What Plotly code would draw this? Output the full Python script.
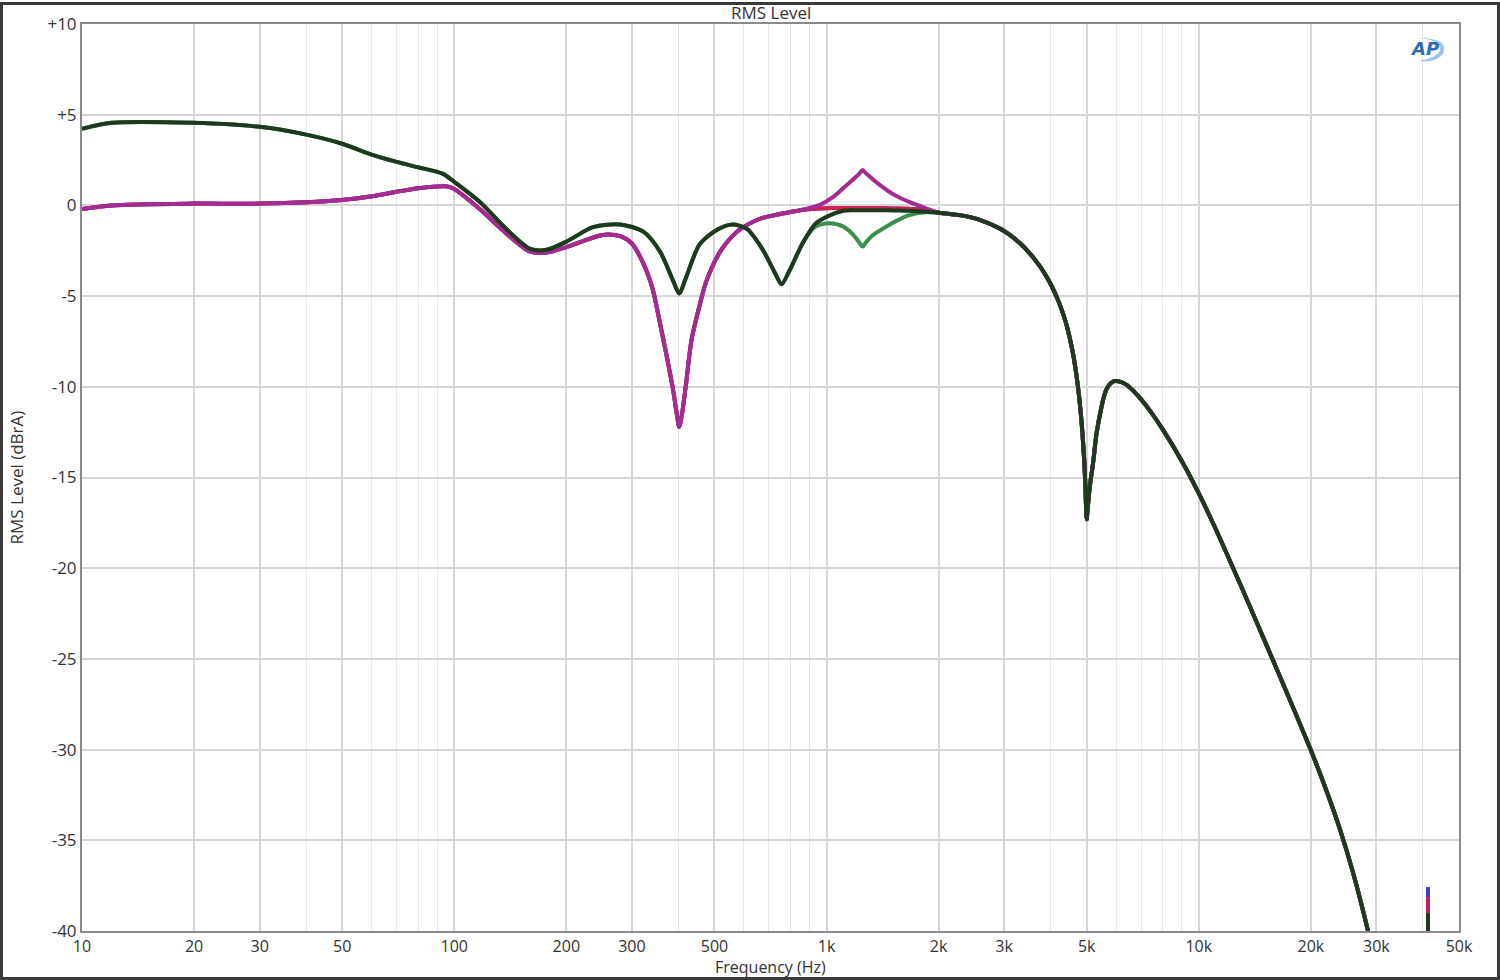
import plotly.graph_objects as go

# ---------------- data ----------------
# group A: traces starting near 0 dB at low frequency
freq_a = [10, 12, 20, 30, 50, 60, 70, 80, 95, 100, 117, 138, 160, 177, 200, 242, 258, 279,
          300, 322, 341, 357, 372, 388, 396, 402, 409, 419, 434, 455, 475, 518, 575, 660,
          740, 812]
level_a = [-0.2, 0.0, 0.1, 0.1, 0.3, 0.5, 0.75, 0.95, 1.05, 0.9, -0.2, -1.55, -2.55, -2.6,
           -2.3, -1.7, -1.6, -1.7, -2.1, -3.2, -4.6, -6.5, -8.3, -10.3, -11.5, -12.2, -11.5,
           -9.9, -7.4, -5.6, -4.2, -2.55, -1.45, -0.75, -0.5, -0.34]

# group B: traces starting near +4.5 dB at low frequency
freq_b = [10, 12, 20, 30, 40, 50, 60, 70, 80, 93, 100, 117, 138, 160, 177, 200, 236, 279,
          322, 357, 388, 402, 419, 456, 507, 560, 611, 672, 730, 757, 795, 867]
level_b = [4.22, 4.55, 4.55, 4.33, 3.9, 3.4, 2.8, 2.4, 2.1, 1.75, 1.3, 0.2, -1.3, -2.4,
           -2.45, -2.0, -1.2, -1.05, -1.45, -2.55, -4.2, -4.85, -4.0, -2.15, -1.35, -1.05,
           -1.3, -2.4, -3.8, -4.35, -3.6, -2.0]

# 0.88 - 1.85 kHz region, group A variants
freq_a_up = [880, 960, 1040, 1120, 1200, 1225, 1250, 1275, 1308, 1390, 1520, 1700, 1850]
level_flat_a = [-0.22, -0.17, -0.15, -0.15, -0.15, -0.15, -0.15, -0.15, -0.15, -0.15,
                -0.17, -0.2, -0.28]
level_peak = [-0.2, 0.03, 0.45, 1.03, 1.58, 1.75, 1.95, 1.78, 1.58, 1.13, 0.58, 0.12, -0.16]

# 0.93 - 1.85 kHz region, group B variants
freq_b_up = [935, 1020, 1110, 1180, 1225, 1250, 1275, 1330, 1400, 1460, 1560, 1660, 1850]
level_flat_b = [-1.0, -0.55, -0.3, -0.27, -0.27, -0.27, -0.27, -0.27, -0.27, -0.27, -0.28,
                -0.3, -0.35]
level_dip = [-1.17, -0.98, -1.17, -1.62, -2.05, -2.27, -2.05, -1.65, -1.35, -1.12, -0.8,
             -0.55, -0.38]

# common high-frequency part (all traces coincide)
freq_hf = [2000, 2300, 2600, 2925, 3100, 3310, 3500, 3740, 3900, 4030, 4180, 4330, 4430,
           4570, 4670, 4770, 4850, 4920, 4960, 4980, 5000, 5020, 5060, 5110, 5200, 5310,
           5430, 5560, 5660, 5800, 5950, 6100, 6400, 6900, 7400, 8000, 9000, 10000, 11000,
           12370, 13700, 15200, 17400, 19880, 21800, 23900, 26000, 28500, 30500]
level_hf = [-0.4, -0.55, -0.82, -1.28, -1.61, -2.09, -2.6, -3.35, -3.93, -4.47, -5.19,
            -6.03, -6.72, -7.94, -9.07, -10.54, -12.12, -13.98, -15.56, -16.7, -17.3, -16.9,
            -16.1, -15.3, -14.2, -12.6, -11.5, -10.55, -10.1, -9.8, -9.68, -9.7, -9.89,
            -10.54, -11.33, -12.35, -14.09, -15.88, -17.66, -20.0, -22.08, -24.24, -27.06,
            -29.9, -32.02, -34.34, -36.83, -40.02, -42.7]

x_tickvals = [10, 20, 30, 50, 100, 200, 300, 500, 1000, 2000, 3000, 5000, 10000, 20000, 30000, 50000]
x_ticktext = ["10", "20", "30", "50", "100", "200", "300", "500", "1k", "2k", "3k", "5k", "10k", "20k", "30k", "50k"]
x_minor = [40, 60, 70, 80, 90, 400, 600, 700, 800, 900, 4000, 6000, 7000, 8000, 9000, 40000]
y_tickvals = [10, 5, 0, -5, -10, -15, -20, -25, -30, -35, -40]
y_ticktext = ["+10", "+5", "0", "-5", "-10", "-15", "-20", "-25", "-30", "-35", "-40"]

# ---------------- build traces ----------------
traces = [
    ("blue", "#3f3fb8", freq_a + freq_a_up + freq_hf, level_a + level_flat_a + level_hf),
    ("crimson", "#d2204f", freq_a + freq_a_up + freq_hf, level_a + level_flat_a + level_hf),
    ("green", "#3e8e50", freq_b + freq_b_up + freq_hf, level_b + level_dip + level_hf),
    ("magenta", "#a42c90", freq_a + freq_a_up + freq_hf, level_a + level_peak + level_hf),
    ("darkgreen", "#1e3a1e", freq_b + freq_b_up + freq_hf, level_b + level_flat_b + level_hf),
]

fig = go.Figure()
for name, color, xs, ys in traces:
    fig.add_trace(go.Scatter(x=xs, y=ys, mode="lines", name=name,
                             line=dict(color=color, width=4, shape="spline", smoothing=0.8),
                             hoverinfo="skip"))

FONT = "Open Sans, Noto Sans, DejaVu Sans, sans-serif"
W, H = 1500, 980
L, R, T, B = 82, 41, 22, 49
PW, PH = W - L - R, H - T - B

def px(x):
    return (x - L) / PW

def py(y):
    return (H - B - y) / PH

fig.update_layout(
    width=W, height=H, autosize=False,
    margin=dict(l=L, r=R, t=T, b=B),
    paper_bgcolor="white", plot_bgcolor="white",
    showlegend=False,
    font=dict(family=FONT, size=17, color="#333333"),
)
fig.update_xaxes(
    type="log", range=[1, 4.69897],
    tickvals=x_tickvals, ticktext=x_ticktext,
    showgrid=True, gridcolor="#d6d6d6", gridwidth=1.5,
    minor=dict(tickvals=x_minor, showgrid=True, gridcolor="#e8e8e8", gridwidth=1),
    showline=True, linecolor="#8a8a8a", linewidth=2, mirror=True,
    ticks="", zeroline=False, tickfont=dict(size=16, color="#333333"),
)
fig.update_yaxes(
    range=[-40, 10], tickvals=y_tickvals, ticktext=y_ticktext,
    showgrid=True, gridcolor="#d6d6d6", gridwidth=1.5,
    showline=True, linecolor="#8a8a8a", linewidth=2, mirror=True,
    ticks="", zeroline=False, tickfont=dict(size=17, color="#333333"),
)

annotations = [
    dict(text="RMS Level", x=0.5, y=py(10), xref="paper", yref="paper",
         showarrow=False, font=dict(size=17, color="#333333"), xanchor="center", yanchor="middle"),
    dict(text="Frequency (Hz)", x=0.5, y=py(967), xref="paper", yref="paper",
         showarrow=False, font=dict(size=16, color="#333333"), xanchor="center", yanchor="middle"),
    dict(text="RMS Level (dBrA)", x=px(16), y=0.5, xref="paper", yref="paper", textangle=-90,
         showarrow=False, font=dict(size=17, color="#333333"), xanchor="center", yanchor="middle"),
    dict(text="<b><i>AP</i></b>", x=px(1424), y=py(47), xref="paper", yref="paper",
         showarrow=False, font=dict(size=18, color="#2a6cb8", family="DejaVu Sans"),
         xanchor="center", yanchor="middle"),
]
fig.update_layout(annotations=annotations)

shapes = [
    # outer frame of the picture
    dict(type="rect", xref="paper", yref="paper", x0=px(1.5), x1=px(1498.5), y0=py(978.5), y1=py(1.5),
         line=dict(color="#3a3a3a", width=3), layer="above"),
    # AP logo swoosh
    dict(type="path", xref="paper", yref="paper",
         path=f"M {px(1418)} {py(36)} Q {px(1450)} {py(36)} {px(1443)} {py(52)} "
              f"Q {px(1436)} {py(61)} {px(1419)} {py(59)} Q {px(1436)} {py(56)} {px(1440)} {py(49)} "
              f"Q {px(1443)} {py(38)} {px(1418)} {py(36)} Z",
         fillcolor="#5a9ad8", line=dict(width=0), opacity=0.6),
    # trace marker at the lower right
    dict(type="line", xref="paper", yref="paper", x0=px(1428), x1=px(1428), y0=py(887), y1=py(897),
         line=dict(color="#3f3fb8", width=4)),
    dict(type="line", xref="paper", yref="paper", x0=px(1428), x1=px(1428), y0=py(897), y1=py(913),
         line=dict(color="#c0206a", width=4)),
    dict(type="line", xref="paper", yref="paper", x0=px(1428), x1=px(1428), y0=py(913), y1=py(931),
         line=dict(color="#1e3a1e", width=4)),
]
fig.update_layout(shapes=shapes)

fig.write_html("out.html", config={"displayModeBar": False},
               post_script="document.body.style.margin='0';document.body.style.padding='0';")
